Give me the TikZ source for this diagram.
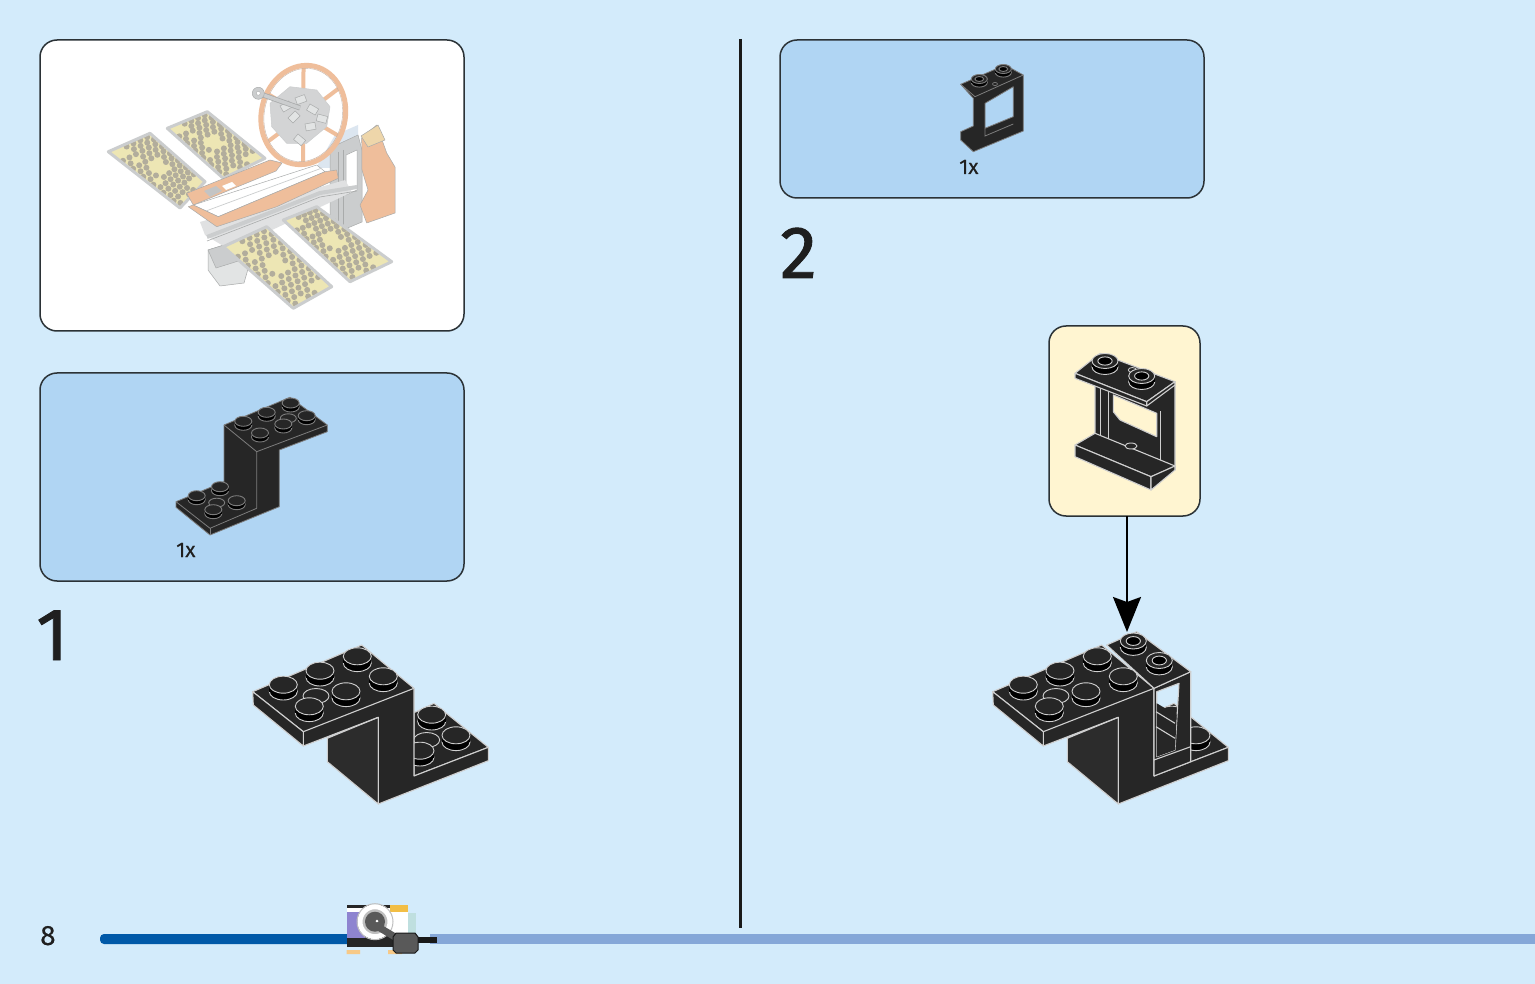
\documentclass[tikz,border=0pt]{standalone}
\usepackage{fontspec}
\setmainfont[FakeBold=.25]{Fira Sans}
\newfontfamily\stepfont[FakeBold=1.2]{Fira Sans}
\usetikzlibrary{arrows.meta,calc}

\definecolor{pagebg}{HTML}{D3EBFB}
\definecolor{partsblue}{HTML}{B0D5F3}
\definecolor{calloutyellow}{HTML}{FFF5D1}
\definecolor{panelline}{HTML}{2B3236}
\definecolor{brickface}{HTML}{262626}
\definecolor{brickside}{HTML}{2C2C2C}
\definecolor{brickline}{HTML}{CFCFCF}
\definecolor{softline}{HTML}{7D7D7D}
\definecolor{barblue}{HTML}{0059A8}
\definecolor{barlight}{HTML}{85A7D8}
\definecolor{fadeorange}{HTML}{EFBE9B}
\definecolor{fadegray}{HTML}{CBCDCE}
\definecolor{fadedark}{HTML}{A9ABAB}
\definecolor{fadeyellow}{HTML}{EDE6B4}
\definecolor{fadehex}{HTML}{B2AD9C}
\definecolor{fadeblue}{HTML}{DCE6F0}
\definecolor{iconviolet}{HTML}{8E84D0}
\definecolor{iconamber}{HTML}{F2BE45}
\definecolor{iconfoot}{HTML}{F7C987}

\tikzset{
  panelbox/.style={draw=panelline, line width=1.5pt, rounded corners=17pt, inner sep=0pt, outer sep=0pt},
  bigdigit/.style={anchor=base west, inner sep=0pt, font=\stepfont\fontsize{74}{74}\selectfont, text=black!88},
  countlabel/.style={anchor=base west, inner sep=0pt, font=\fontsize{21}{24}\selectfont, text=black!88},
  brickpart/.style={fill=brickface, draw=brickline, line width=1.1pt, line join=round},
  softpart/.style={fill=brickface, draw=softline, line width=.8pt, line join=round},
  fadepart/.style={fill=#1, draw=fadedark, line width=.5pt, line join=round},
}

% stud: centre x, centre y, rx, ry, line colour
\newcommand{\lstud}[5]{%
  \pgfmathsetmacro\studh{#4*.8}%
  \draw[fill=black, draw=#5, line width=.9pt] (#1,#2+\studh) ellipse (#3 and #4);
  \fill[black] (#1-#3,#2) rectangle (#1+#3,#2+\studh);
  \draw[fill=brickface, draw=#5, line width=.9pt] (#1,#2) ellipse (#3 and #4);
}
\newcommand{\lhollow}[5]{%
  \lstud{#1}{#2}{#3}{#4}{#5}
  \draw[fill=black, draw=#5, line width=.9pt] (#1,#2) ellipse ({#3*.55} and {#4*.55});
}
% flat ring left by a stud under the plate
\newcommand{\lring}[5]{%
  \draw[fill=brickface, draw=#5, line width=.9pt] (#1,#2) ellipse (#3 and #4);
}
% solar panel from four named corners
\newcommand{\solarpanel}[4]{%
  \fill[fadeyellow] (#1) -- (#2) -- (#3) -- (#4) -- cycle;
  \foreach \iu in {0,...,13}
  \foreach \iv in {0,...,5}{
    \pgfmathtruncatemacro\gap{(\iu<2 && \iv<2) || (\iu>11 && \iv>3) || (\iu>4 && \iu<8 && \iv>1 && \iv<4) || (mod(\iu,5)==3 && \iv==1)}
    \ifnum\gap=0
      \pgfmathsetmacro\pu{(\iu+.5)/14}
      \pgfmathsetmacro\pv{(\iv+.3+.4*mod(\iu,2))/6}
      \fill[fadehex] ($($(#1)!\pu!(#2)$)!\pv!($(#4)!\pu!(#3)$)$) circle (3);
    \fi
  }
  \draw[fadegray, line width=3pt, line join=round] (#1) -- (#2) -- (#3) -- (#4) -- cycle;
}

\tikzset{
  brick/.pic={
    % lower plate
    \path[brickpart] (414,712.7) -- (434,703.3) -- (488.3,747.3) -- (414,776) -- cycle;
    \lring{426.7}{740}{13}{7.5}{brickline}
    \lstud{431.7}{714.7}{14}{8.5}{brickline}
    \lstud{456}{735.3}{14}{8.5}{brickline}
    \lstud{420}{750.7}{14}{8.5}{brickline}
    % wall and plate sides
    \path[fill=brickface] (303.3,731.7) -- (414,688.3) -- (414,776) -- (488.3,747.3) -- (488.3,760.7) -- (378.3,804) -- (378.3,717.3) -- (303.3,746) -- cycle;
    \draw[brickpart, fill=brickside] (327.3,738.3) -- (378.3,717.3) -- (378.3,804) -- (327.3,761.7) -- cycle;
    \draw[brickline, line width=1.1pt, line join=round] (303.3,746) -- (378.3,717.3) -- (378.3,804) -- (488.3,760.7) -- (488.3,747.3) -- (414,776) -- (414,688.3);
    % top plate
    \path[brickpart] (252.7,691.7) -- (361.7,645) -- (414,688.3) -- (303.3,731.7) -- cycle;
    \path[brickpart] (252.7,691.7) -- (303.3,731.7) -- (303.3,746) -- (253.3,705) -- cycle;
    \lring{316}{696}{13}{7.5}{brickline}
    \foreach \sx/\sy in {283.3/684.7, 320/670.7, 357.3/656.3, 383.3/676.3, 346/691.3, 309.3/706.3}
    {\lstud{\sx}{\sy}{14}{8.5}{brickline}}
  }
}

\begin{document}
\begin{tikzpicture}[x=1pt, y=-1pt, >=stealth]
  \fill[pagebg] (0,0) rectangle (1535,984);
  \useasboundingbox (0,0) rectangle (1535,984);

  % panels
  \node[panelbox, fill=white, minimum width=424pt, minimum height=291pt] (modelbox) at (252,185.5) {};
  \node[panelbox, fill=partsblue, minimum width=424pt, minimum height=208pt] (partsone) at (252,477) {};
  \node[panelbox, fill=partsblue, minimum width=424pt, minimum height=158pt] (partstwo) at (992,119) {};
  \node[panelbox, fill=calloutyellow, minimum width=151pt, minimum height=190pt] (callout) at (1124.5,421) {};

  % divider
  \coordinate (dividertop) at (740,39);
  \coordinate (dividerend) at (740,928);
  \draw[black!90, line width=3pt] (dividertop) -- (dividerend);

  % faded model: tower and far panels
  \coordinate (pa1) at (167.3,128.3); \coordinate (pa2) at (223.3,178.3); \coordinate (pa3) at (265,158.3); \coordinate (pa4) at (207.3,111.7);
  \coordinate (pb1) at (108.3,151.7); \coordinate (pb2) at (180,208); \coordinate (pb3) at (205,181.7); \coordinate (pb4) at (150,133.3);
  \coordinate (pc1) at (223.3,246.7); \coordinate (pc2) at (293.3,308.3); \coordinate (pc3) at (331.7,286.7); \coordinate (pc4) at (266.7,226.7);
  \coordinate (pd1) at (283.3,220); \coordinate (pd2) at (350,281.7); \coordinate (pd3) at (391.7,261.7); \coordinate (pd4) at (316.7,206.7);
  \solarpanel{pa1}{pa2}{pa3}{pa4}
  \solarpanel{pb1}{pb2}{pb3}{pb4}
  \fill[fadeblue] (316,168) -- (335,135) -- (358,125) -- (358,140) -- (332,168) -- cycle;
  \path[fadepart=fadegray] (330,148) -- (358,135) -- (362,150) -- (362,222) -- (338,232) -- (330,222) -- cycle;
  \path[fadepart=white] (346,155) -- (357,150) -- (357,190) -- (346,195) -- cycle;
  \draw[fadedark, line width=1pt] (338,152) -- (338,228) (343,150) -- (343,226);
  \path[fadepart=fadeorange] (361.7,138) -- (376.7,125) -- (386.7,153) -- (395,167) -- (395,213) -- (366.7,223) -- (360,205) -- (368,190) -- (362,170) -- cycle;
  \path[fadepart=fadeyellow!60!fadeorange] (361,136) -- (378,125) -- (385,140) -- (368,147) -- cycle;

  % faded model: wheel
  \begin{scope}[shift={(303.3,115)}, rotate=-13]
    \foreach \a in {15,75,135,195,255,315}
    \draw[fadeorange, line width=4pt] ({22*cos(\a)},{26*sin(\a)}) -- ({43*cos(\a)},{51*sin(\a)});
    \draw[fadeorange, line width=5pt] (0,0) ellipse (42 and 50);
    \draw[fadedark!60!fadeorange, line width=.4pt] (0,0) ellipse (39 and 47);
  \end{scope}
  \path[fill=fadegray!85!white, draw=fadegray, line width=.5pt, line join=round] (270,103.3) -- (290,86.7) -- (316.7,90) -- (330,106.7) -- (326.7,126.7) -- (306.7,143.3) -- (286.7,143.3) -- (271.7,126.7) -- cycle;
  \foreach \mx/\my/\mr in {295/98/20, 310/104/-30, 288/118/45, 305/124/10, 318/114/-15, 280/106/30, 298/134/-40}
  \draw[fadedark, fill=fadegray!55!white, line width=.5pt, rotate around={\mr:(\mx,\my)}] (\mx,\my) rectangle +(10,7);
  \draw[fadedark, line width=5pt] (258.3,93.3) -- (300,108);
  \draw[fadegray, line width=3.5pt] (258.3,93.3) -- (300,108);
  \draw[fadepart=fadegray] (258.3,93.3) circle (6);
  \draw[fadedark, fill=white] (258.3,93.3) circle (2);

  % faded model: long bar, near panels, base
  \path[fadepart=fadegray!55!white] (208,250) -- (240,240) -- (250,262) -- (244,283) -- (220,286) -- (208,270) -- cycle;
  \path[fadepart=fadegray] (208,250) -- (240,240) -- (248,258) -- (216,268) -- cycle;
  \fill[fadegray!60!white] (200,222) -- (345,180) -- (352,192) -- (230,250) -- (205,235) -- cycle;
  \solarpanel{pc1}{pc2}{pc3}{pc4}
  \solarpanel{pd1}{pd2}{pd3}{pd4}
  \draw[fadegray, line width=4pt, line join=round] (207,237) -- (277,210) -- (320,193) -- (357,187);
  \draw[fadedark, line width=.6pt, line join=round] (207,241) -- (277,214) -- (320,197) -- (357,191);
  \path[fadepart=white] (193.3,205) -- (316.7,165) -- (325,171.7) -- (218.3,216.7) -- cycle;
  \draw[fadegray, line width=.7pt] (206,211) -- (322,168);
  \path[fadepart=fadeorange] (186.7,193.3) -- (270,160) -- (282,163) -- (276,171) -- (193.3,205) -- cycle;
  \path[fadepart=fadeorange] (188.3,206.7) -- (216.7,226.7) -- (276.7,206.7) -- (338.3,178.3) -- (336.7,170) -- (325,171.7) -- (218.3,216.7) -- (193.3,205) -- cycle;
  \fill[fadedark!70!white] (204,191) -- (216,186) -- (222,191) -- (210,197) -- cycle;
  \fill[white] (222,186) -- (232,182) -- (236,186) -- (226,190) -- cycle;

  % part of step 1
  \path[softpart] (224,425) -- (290,397.3) -- (327.3,425) -- (327.3,431.7) -- (279.3,450) -- (279.3,506.7) -- (210,535) -- (176,507.3) -- (176,501.7) -- (224,481.7) -- cycle;
  \draw[softline, line width=.8pt, line join=round] (224,425) -- (256.7,451.7) -- (327.3,425);
  \draw[softline, line width=.8pt, line join=round] (256.7,451.7) -- (256.7,508.3) -- (210,528.3) -- (176,501.7);
  \draw[softline, line width=.8pt] (210,528.3) -- (210,535);
  \foreach \sx/\sy in {288.3/418.3, 216.7/502.7}
  {\lring{\sx}{\sy}{8}{4.5}{softline}}
  \foreach \sx/\sy in {243.3/421.3, 266.7/412.3, 290.7/403, 306.7/415.7, 283.3/424, 260/433, 220/486.7, 196.7/495.7, 236.7/500.7, 213.3/509.7}
  {\lstud{\sx}{\sy}{8.5}{5}{softline}}

  % part of step 2
  \path[softpart, even odd rule] (960.7,84.3) -- (1005,65) -- (1023.3,75) -- (1023.3,131) -- (973.3,151.7) -- (960.7,140) -- (960.7,131.7) -- (973.3,126) -- (973.3,98.3) -- cycle
    (985,103.3) -- (1013.3,86.7) -- (1013.3,116.7) -- (985,128.3) -- cycle;
  \draw[softline, line width=.8pt] (960.7,84.3) -- (975,96.7) -- (1023.3,75);
  \draw[softline, line width=.8pt] (985,128.3) -- (985,136) -- (1013.3,124);
  \draw[softline, fill=brickface, line width=.6pt] (995,84) ellipse (2.5 and 1.6);
  \lhollow{979.3}{79}{8}{4.5}{softline}
  \lhollow{1003.3}{69}{8}{4.5}{softline}

  % callout window
  \path[brickpart, even odd rule] (1095,385) -- (1175,385) -- (1175,470) -- (1095,436) -- cycle
    (1113.3,395) -- (1156.7,413.3) -- (1156.7,436.7) -- (1120,420) -- (1113.3,411.7) -- cycle;
  \draw[brickline, line width=1pt] (1100,388) -- (1100,437) (1108,391) -- (1108,441) (1160,411) -- (1160,464);
  \path[brickpart] (1075,445) -- (1095,433.3) -- (1175,466) -- (1151,476.7) -- cycle;
  \path[brickpart] (1075,445) -- (1151,476.7) -- (1151,490) -- (1075,456.7) -- cycle;
  \path[brickpart] (1151,476.7) -- (1175,466) -- (1175,470) -- (1151,490) -- cycle;
  \draw[brickline, fill=brickface, line width=.9pt] (1131,446) ellipse (6 and 3);
  \path[brickpart] (1075,373.3) -- (1100,353.3) -- (1175,381.7) -- (1146.7,401.7) -- cycle;
  \path[brickpart] (1075,373.3) -- (1146.7,401.7) -- (1146.7,406) -- (1075,378.3) -- cycle;
  \path[brickpart] (1146.7,401.7) -- (1175,381.7) -- (1175,385) -- (1146.7,406) -- cycle;
  \draw[brickline, fill=brickface, line width=.8pt] (1132.3,370) ellipse (4 and 2.5);
  \lhollow{1105}{361}{13}{7.5}{brickline}
  \lhollow{1141.7}{376}{13}{7.5}{brickline}

  % step 1 and step 2 models
  \pic at (0,0) {brick};
  \pic at (740,0) {brick};

  % window placed in step 2
  \path[brickpart, even odd rule] (1154,688.3) -- (1190.7,671.7) -- (1190.7,761.7) -- (1154,776) -- cycle
    (1156.7,691.7) -- (1179,683.3) -- (1175,750) -- (1156.7,756.7) -- cycle;
  \fill[brickface] (1156.7,703.3) -- (1176.7,715) -- (1175,750) -- (1156.7,756.7) -- cycle;
  \draw[brickline, line width=1.1pt] (1156,711.7) -- (1175,723.3) (1156,726.7) -- (1175,738.3) (1154,760) -- (1190.7,746.7);
  \path[brickpart] (1106.7,645) -- (1136.7,631.7) -- (1190.7,671.7) -- (1154,688.3) -- cycle;
  \lhollow{1133.3}{641}{13}{8}{brickline}
  \lhollow{1159.3}{660.5}{13}{8}{brickline}

  % arrow
  \coordinate (arrowtip) at (1127,632);
  \draw[-{Stealth[length=35pt, width=28pt, inset=5pt]}, black, line width=2pt] (callout.south -| arrowtip) -- (arrowtip);

  % labels
  \node[countlabel] (countone) at (176,557) {1x};
  \node[countlabel] (counttwo) at (959,174) {1x};
  \node[bigdigit] (stepone) at (36,660) {1};
  \node[bigdigit] (steptwo) at (780,278) {2};
  \node[anchor=base west, inner sep=0pt, font=\fontsize{28}{30}\selectfont, text=black!88] (pagenum) at (40,945) {8};

  % progress bar
  \fill[barlight] (430,934) rectangle (1535,944);
  \fill[barblue, rounded corners=4pt] (100,934) rectangle (360,944);
  \fill[black!85] (346.7,905) rectangle (408,947);
  \fill[white] (346.7,908) rectangle (408,911.7);
  \fill[iconviolet] (346.7,911.7) rectangle (365,938);
  \fill[iconamber] (390,905) rectangle (408,911.7);
  \fill[white] (390,911.7) rectangle (408,937);
  \fill[teal!25!white] (408,913) rectangle (416,937);
  \fill[iconfoot] (346.7,950) rectangle (360,954) (388,950) rectangle (402,954);
  \draw[white, fill=gray!50, line width=5pt] (375,921.7) circle (15);
  \draw[gray!50, line width=1pt] (375,921.7) circle (18);
  \fill[black!65] (375,921.7) circle (10);
  \fill[white] (377,921) circle (1.5);
  \draw[black!65, line width=7pt] (375,925) -- (400,940);
  \path[fill=black!65, draw=black!90, line width=1pt] (396,933) -- (415,933) -- (418,937) -- (418,950) -- (415,953) -- (396,953) -- (393,950) -- (393,937) -- cycle;
  \fill[black!90] (418,937) rectangle (437,943);
\end{tikzpicture}
\end{document}
